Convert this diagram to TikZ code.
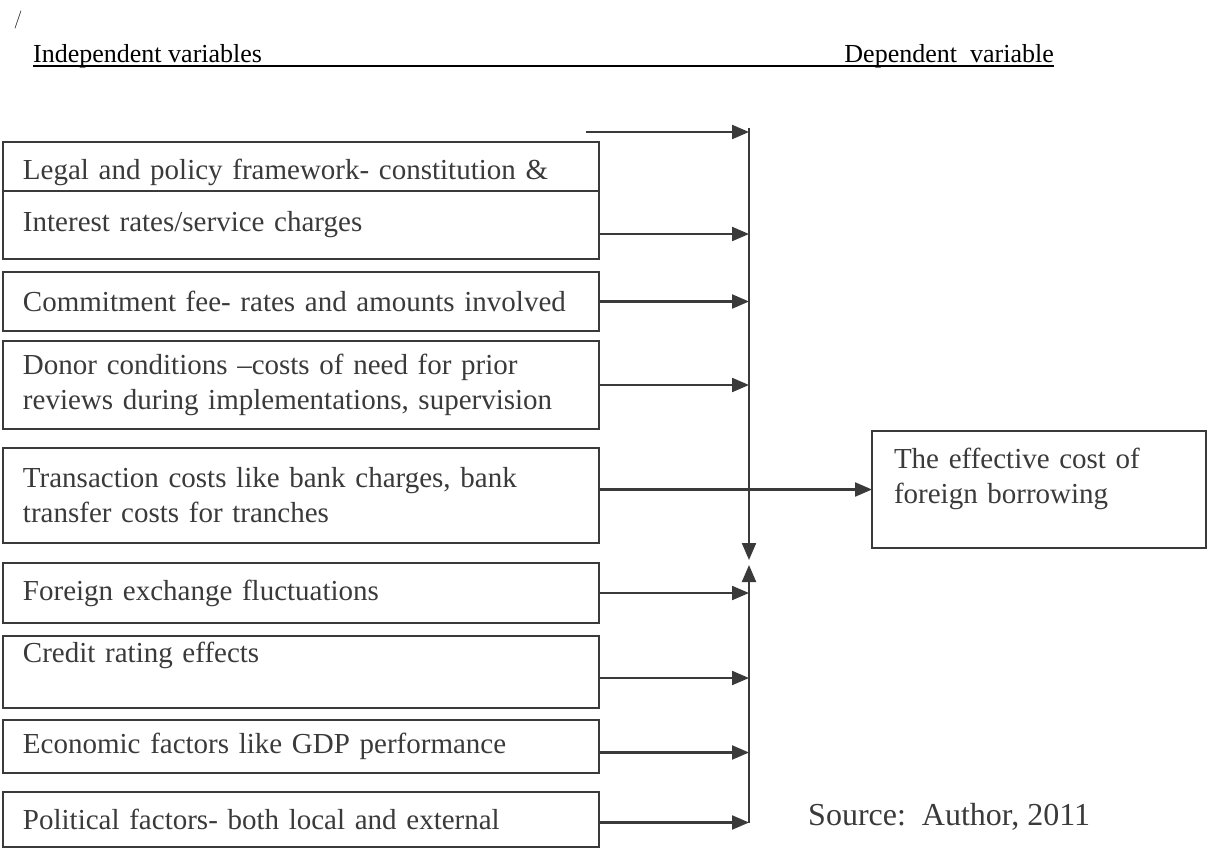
\documentclass[tikz,border=0pt]{standalone}
\usepackage{fontspec}
\setmainfont{Liberation Serif}
\usetikzlibrary{arrows.meta}
\usetikzlibrary{positioning}
\definecolor{inkgray}{HTML}{3A3A3A}
\tikzset{
  factor/.style={
    draw=inkgray,line width=2pt,text=inkgray,outer sep=0pt,
    text width=556pt,inner xsep=20pt,inner ysep=0pt,align=left,
    font=\fontsize{29}{35}\selectfont,
  },
  feed/.style={draw=inkgray,line width=2.2pt,-{Triangle[length=17pt,width=14pt]}},
  heading/.style={inner sep=0pt,font=\fontsize{26}{30}\selectfont},
}

\begin{document}
\begin{tikzpicture}[x=1pt,y=-1pt]
      \useasboundingbox (0,0) rectangle (1208,849);
      \node[inner sep=0pt,font=\sffamily\fontsize{18}{20}\selectfont] (slash) at (18,20) {/};
      \node[heading,anchor=base west] (indep) at (33,62) {Independent variables};
      \node[heading,anchor=base east] (dep) at (1054,62) {Dependent\ \ variable};
      \draw[line width=2.5pt] ([yshift=-4pt]indep.base west) -- ([yshift=-4pt]dep.base east);

      \node[factor,anchor=north west,minimum height=49pt,text height=32pt] (legal) at (3,142) {Legal and policy framework- constitution \&};
      \node[factor,minimum height=68pt,below=0pt of legal] (rates) {Interest rates/service charges};
      \node[factor,minimum height=59pt,below=13pt of rates] (fee) {Commitment fee- rates and amounts involved};
      \node[factor,minimum height=88pt,below=10pt of fee] (donor) {Donor conditions --costs of need for prior\\reviews during implementations, supervision};
      \node[factor,minimum height=95pt,below=19pt of donor] (transaction) {Transaction costs like bank charges, bank\\transfer costs for tranches};
      \node[factor,minimum height=60pt,below=20pt of transaction] (forex) {Foreign exchange fluctuations};
      \node[factor,minimum height=72pt,text depth=40pt,below=13pt of forex] (credit) {Credit rating effects};
      \node[factor,minimum height=53pt,below=12pt of credit] (gdp) {Economic factors like GDP performance};
      \node[factor,minimum height=55pt,below=19pt of gdp] (political) {Political factors- both local and external};

      \node[factor,anchor=north west,text width=290pt,inner xsep=22pt,minimum height=117pt,text depth=63pt] (cost) at (872,431) {The effective cost of\\foreign borrowing};
      \node[anchor=base west,inner sep=0pt,text=inkgray,font=\fontsize{32}{36}\selectfont] (source) at (808,825) {Source:\ \ Author, 2011};

      \coordinate (bus) at (749,128);
      \coordinate (topfeed) at (586,132);
      \coordinate (downtip) at (749,560);
      \coordinate (uptip) at (749,565);

      \draw[feed] (topfeed) -- (topfeed -| bus);
      \draw[feed] ([yshift=-9pt]rates.east) coordinate (r2) -- (r2 -| bus);
      \draw[feed] (fee.east) -- (fee.east -| bus);
      \draw[feed] (donor.east) -- (donor.east -| bus);
      \draw[feed] (transaction.east |- cost.west) -- (cost.west);
      \draw[feed] (forex.east) -- (forex.east -| bus);
      \draw[feed] ([yshift=-6pt]credit.east) coordinate (r7) -- (r7 -| bus);
      \draw[feed] ([yshift=-6pt]gdp.east) coordinate (r8) -- (r8 -| bus);
      \draw[feed] ([yshift=-3pt]political.east) coordinate (r9) -- (r9 -| bus);

      \draw[feed] (bus) -- (downtip);
      \draw[feed] (r9 -| bus) -- (uptip);
\end{tikzpicture}
\end{document}
